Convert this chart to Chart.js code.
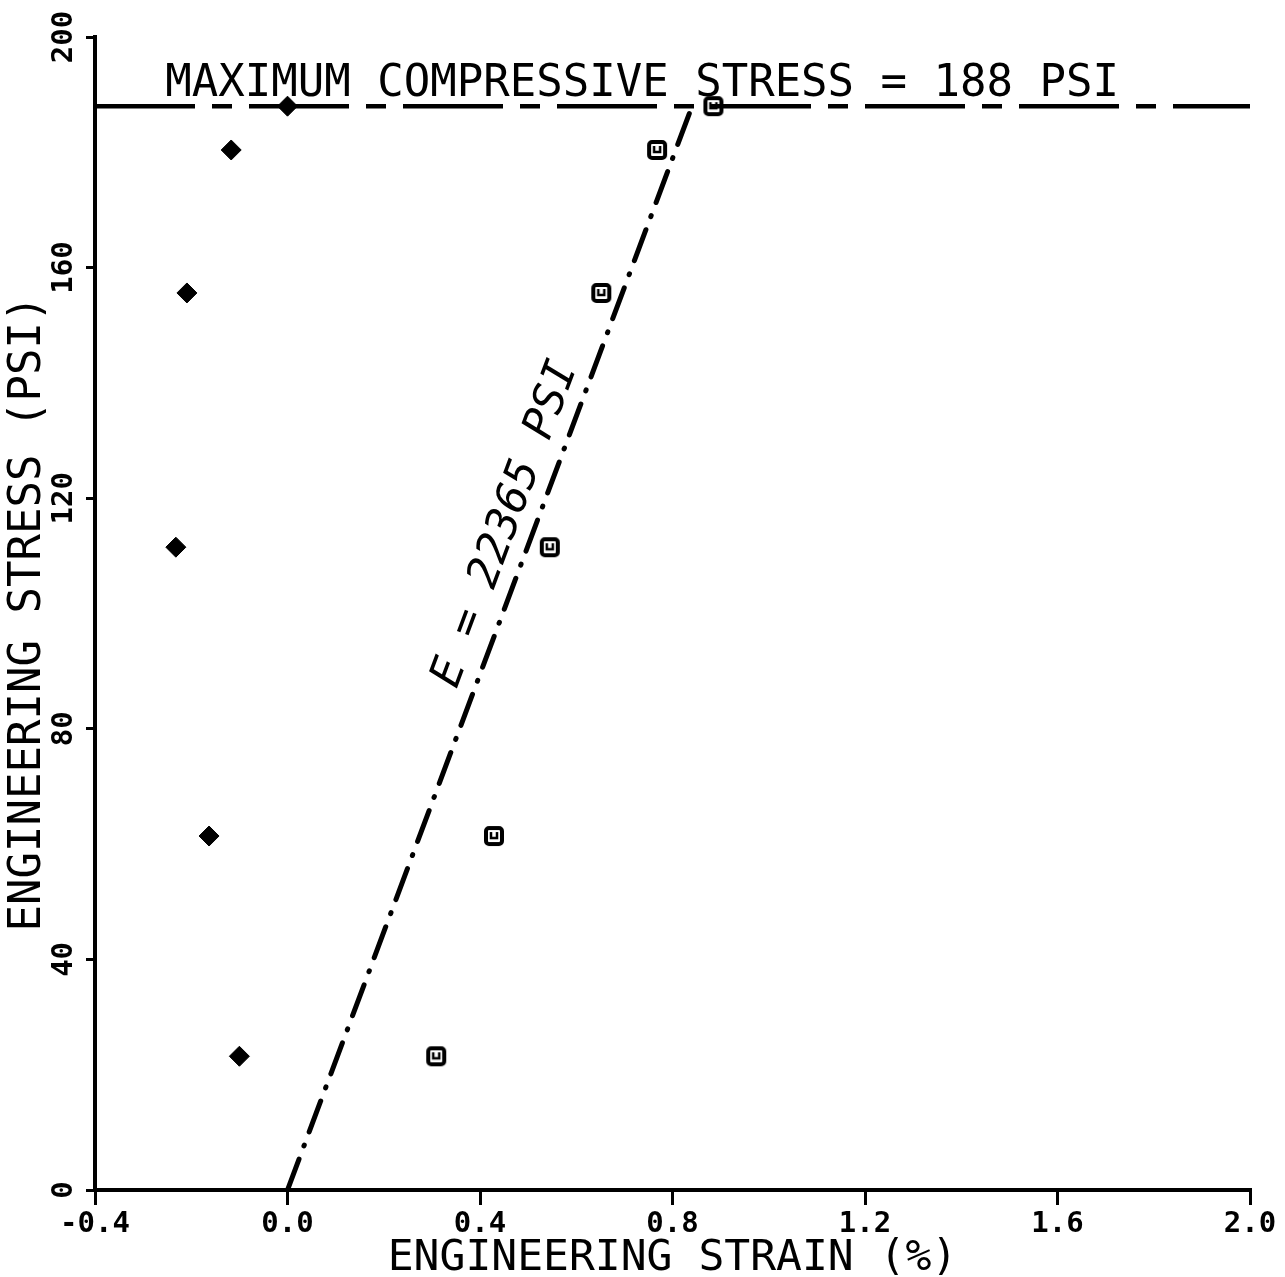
<!DOCTYPE html>
<html>
<head>
<meta charset="utf-8">
<title>Engineering stress vs strain</title>
<script src="https://cdn.jsdelivr.net/npm/chart.js@4.4.0/dist/chart.umd.min.js"></script>
<style>
  html, body { margin: 0; padding: 0; background: #fff; }
  #wrap { width: 1285px; height: 1277px; }
</style>
</head>
<body>
<div id="wrap"><canvas id="chart" width="1285" height="1277"></canvas></div>
<script>
// values
const stress = [23.2, 61.4, 111.5, 155.6, 180.4, 188];
const lateralStrain = [-0.10, -0.163, -0.232, -0.209, -0.117, 0.0];
const axialStrain = [0.309, 0.429, 0.545, 0.652, 0.768, 0.885];
const maxStress = 188;
const modulus = 22365;
const xTicks = [-0.4, 0.0, 0.4, 0.8, 1.2, 1.6, 2.0];
const yTicks = [0, 40, 80, 120, 160, 200];

const yieldStrain = maxStress / modulus * 100; // in %
const mono = 'DejaVu Sans Mono';

// open square marker with the little mark inside
function squareMarker() {
    const c = document.createElement('canvas');
    c.width = 24; c.height = 24;
    const g = c.getContext('2d');
    g.strokeStyle = '#000';
    g.lineWidth = 4;
    g.beginPath();
    g.roundRect(4, 4, 16, 16, 3);
    g.stroke();
    g.lineWidth = 2.5;
    g.beginPath();
    g.moveTo(9, 8); g.lineTo(9, 14); g.lineTo(15, 14); g.lineTo(15, 8);
    g.stroke();
    return c;
}

const textPlugin = {
    id: 'textPlugin',
    afterDatasetsDraw(chart) {
        const { ctx, scales: { x, y } } = chart;
        ctx.save();
        ctx.fillStyle = '#000';
        ctx.textAlign = 'center';
        ctx.textBaseline = 'middle';

        // rotated y tick labels
        ctx.font = `bold 29px "${mono}"`;
        yTicks.forEach(v => {
            ctx.save();
            ctx.translate(64, y.getPixelForValue(v));
            ctx.rotate(-Math.PI / 2);
            ctx.fillText(String(v), 0, 0);
            ctx.restore();
        });

        ctx.font = `44px "${mono}"`;
        ctx.fillText(`MAXIMUM COMPRESSIVE STRESS = ${maxStress} PSI`, x.getPixelForValue(0.737), y.getPixelForValue(191.8));

        // modulus label along the sloped line
        const x0 = x.getPixelForValue(0), y0 = y.getPixelForValue(0);
        const x1 = x.getPixelForValue(yieldStrain), y1 = y.getPixelForValue(maxStress);
        ctx.translate(x.getPixelForValue(0.454), y.getPixelForValue(115.5));
        ctx.rotate(Math.atan2(y1 - y0, x1 - x0));
        ctx.font = `oblique 44px "${mono}"`;
        ctx.fillText(`E = ${modulus} PSI`, 0, 0);
        ctx.restore();
    }
};

const ctx = document.getElementById('chart').getContext('2d');

const chart = new Chart(ctx, {
    type: 'scatter',
    data: {
        datasets: [
            {
                label: 'Lateral',
                data: lateralStrain.map((v, i) => ({ x: v, y: stress[i] })),
                pointStyle: 'rectRot',
                pointRadius: 10,
                backgroundColor: '#000',
                borderColor: '#000',
                borderWidth: 1
            },
            {
                label: 'Axial',
                data: axialStrain.map((v, i) => ({ x: v, y: stress[i] })),
                pointStyle: squareMarker(),
                backgroundColor: '#fff',
                borderColor: '#000'
            },
            {
                label: 'Max stress',
                data: [{ x: xTicks[0], y: maxStress }, { x: xTicks[xTicks.length - 1], y: maxStress }],
                showLine: true,
                pointRadius: 0,
                borderColor: '#000',
                borderWidth: 4.5,
                borderDash: [100, 17, 20, 17]
            },
            {
                label: 'Modulus',
                data: [{ x: 0, y: 0 }, { x: yieldStrain, y: maxStress }],
                showLine: true,
                pointRadius: 0,
                borderColor: '#000',
                borderWidth: 5,
                borderCapStyle: 'round',
                borderDash: [33, 14, 1, 14]
            }
        ]
    },
    options: {
        responsive: false,
        animation: false,
        layout: { padding: { left: 0, right: 35, top: 37, bottom: 0 } },
        plugins: {
            legend: { display: false },
            tooltip: { enabled: false }
        },
        scales: {
            x: {
                type: 'linear',
                min: xTicks[0],
                max: xTicks[xTicks.length - 1],
                afterBuildTicks: s => { s.ticks = xTicks.map(v => ({ value: v })); },
                afterFit: s => { s.height = 87; },
                border: { display: true, color: '#000', width: 4 },
                grid: { drawOnChartArea: false, color: '#000', lineWidth: 3, tickLength: 15 },
                ticks: {
                    color: '#000',
                    padding: 2,
                    maxRotation: 0,
                    font: { family: mono, size: 29, weight: 'bold' },
                    callback: v => v.toFixed(1)
                },
                title: {
                    display: true,
                    text: 'ENGINEERING STRAIN (%)',
                    color: '#000',
                    padding: 0,
                    font: { family: mono, size: 43, lineHeight: 0.85 }
                }
            },
            y: {
                type: 'linear',
                min: yTicks[0],
                max: yTicks[yTicks.length - 1],
                afterBuildTicks: s => { s.ticks = yTicks.map(v => ({ value: v })); },
                afterFit: s => { s.width = 95; },
                border: { display: true, color: '#000', width: 4 },
                grid: { drawOnChartArea: false, color: '#000', lineWidth: 3, tickLength: 9 },
                ticks: { display: false },
                title: {
                    display: true,
                    text: 'ENGINEERING STRESS (PSI)',
                    color: '#000',
                    padding: { top: 2, bottom: 0 },
                    font: { family: mono, size: 44, lineHeight: 1.2 }
                }
            }
        }
    },
    plugins: [textPlugin]
});
</script>
</body>
</html>
